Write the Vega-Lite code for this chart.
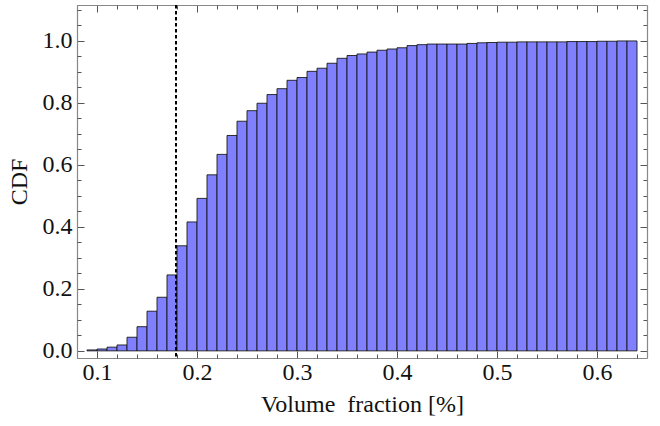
{
  "$schema": "https://vega.github.io/schema/vega-lite/v6.json",
  "width": 570,
  "height": 353,
  "autosize": {"type": "none"},
  "padding": {"left": 77, "top": 5, "right": 13, "bottom": 68},
  "background": "white",
  "config": {
    "font": "Liberation Serif",
    "view": {"stroke": null},
    "axis": {
      "domainColor": "#888888",
      "domainWidth": 1.2,
      "tickColor": "#555555",
      "tickWidth": 1,
      "grid": false,
      "labelFont": "Liberation Serif",
      "labelFontSize": 24,
      "labelColor": "#111111",
      "titleFont": "Liberation Serif",
      "titleFontSize": 24,
      "titleFontWeight": "normal",
      "titleColor": "#111111"
    }
  },
  "datasets": {
    "bins": [
      {"x0": 0.09, "x1": 0.10, "cdf": 0.003},
      {"x0": 0.10, "x1": 0.11, "cdf": 0.006},
      {"x0": 0.11, "x1": 0.12, "cdf": 0.012},
      {"x0": 0.12, "x1": 0.13, "cdf": 0.019},
      {"x0": 0.13, "x1": 0.14, "cdf": 0.044},
      {"x0": 0.14, "x1": 0.15, "cdf": 0.078},
      {"x0": 0.15, "x1": 0.16, "cdf": 0.128},
      {"x0": 0.16, "x1": 0.17, "cdf": 0.173},
      {"x0": 0.17, "x1": 0.18, "cdf": 0.245},
      {"x0": 0.18, "x1": 0.19, "cdf": 0.339},
      {"x0": 0.19, "x1": 0.20, "cdf": 0.416},
      {"x0": 0.20, "x1": 0.21, "cdf": 0.492},
      {"x0": 0.21, "x1": 0.22, "cdf": 0.568},
      {"x0": 0.22, "x1": 0.23, "cdf": 0.634},
      {"x0": 0.23, "x1": 0.24, "cdf": 0.695},
      {"x0": 0.24, "x1": 0.25, "cdf": 0.741},
      {"x0": 0.25, "x1": 0.26, "cdf": 0.775},
      {"x0": 0.26, "x1": 0.27, "cdf": 0.799},
      {"x0": 0.27, "x1": 0.28, "cdf": 0.827},
      {"x0": 0.28, "x1": 0.29, "cdf": 0.846},
      {"x0": 0.29, "x1": 0.30, "cdf": 0.873},
      {"x0": 0.30, "x1": 0.31, "cdf": 0.882},
      {"x0": 0.31, "x1": 0.32, "cdf": 0.902},
      {"x0": 0.32, "x1": 0.33, "cdf": 0.912},
      {"x0": 0.33, "x1": 0.34, "cdf": 0.928},
      {"x0": 0.34, "x1": 0.35, "cdf": 0.944},
      {"x0": 0.35, "x1": 0.36, "cdf": 0.953},
      {"x0": 0.36, "x1": 0.37, "cdf": 0.958},
      {"x0": 0.37, "x1": 0.38, "cdf": 0.964},
      {"x0": 0.38, "x1": 0.39, "cdf": 0.970},
      {"x0": 0.39, "x1": 0.40, "cdf": 0.974},
      {"x0": 0.40, "x1": 0.41, "cdf": 0.978},
      {"x0": 0.41, "x1": 0.42, "cdf": 0.985},
      {"x0": 0.42, "x1": 0.43, "cdf": 0.988},
      {"x0": 0.43, "x1": 0.44, "cdf": 0.990},
      {"x0": 0.44, "x1": 0.45, "cdf": 0.990},
      {"x0": 0.45, "x1": 0.46, "cdf": 0.990},
      {"x0": 0.46, "x1": 0.47, "cdf": 0.990},
      {"x0": 0.47, "x1": 0.48, "cdf": 0.992},
      {"x0": 0.48, "x1": 0.49, "cdf": 0.994},
      {"x0": 0.49, "x1": 0.50, "cdf": 0.995},
      {"x0": 0.50, "x1": 0.51, "cdf": 0.996},
      {"x0": 0.51, "x1": 0.52, "cdf": 0.996},
      {"x0": 0.52, "x1": 0.53, "cdf": 0.997},
      {"x0": 0.53, "x1": 0.54, "cdf": 0.997},
      {"x0": 0.54, "x1": 0.55, "cdf": 0.997},
      {"x0": 0.55, "x1": 0.56, "cdf": 0.997},
      {"x0": 0.56, "x1": 0.57, "cdf": 0.997},
      {"x0": 0.57, "x1": 0.58, "cdf": 0.998},
      {"x0": 0.58, "x1": 0.59, "cdf": 0.998},
      {"x0": 0.59, "x1": 0.60, "cdf": 0.998},
      {"x0": 0.60, "x1": 0.61, "cdf": 0.999},
      {"x0": 0.61, "x1": 0.62, "cdf": 0.999},
      {"x0": 0.62, "x1": 0.63, "cdf": 1.0},
      {"x0": 0.63, "x1": 0.64, "cdf": 1.0}
    ],
    "cut": [{"v": 0.179}]
  },
  "resolve": {"axis": {"x": "independent", "y": "independent"}},
  "layer": [
    {
      "data": {"name": "bins"},
      "mark": {"type": "bar", "fill": "#8080ff", "stroke": "#111111", "strokeWidth": 1, "strokeOpacity": 0.85},
      "encoding": {
        "x": {"field": "x0", "type": "quantitative",
          "scale": {"domain": [0.08, 0.65], "nice": false, "zero": false},
          "axis": {"orient": "bottom", "values": [0.1, 0.2, 0.3, 0.4, 0.5, 0.6], "format": ".1f",
            "labelFont": "Liberation Serif", "labelFontSize": 24, "titleFont": "Liberation Serif", "titleFontSize": 24,
            "tickSize": -7, "labelPadding": 9, "title": "Volume\u00a0 fraction [%]", "titlePadding": 8}},
        "x2": {"field": "x1"},
        "y": {"field": "cdf", "type": "quantitative",
          "scale": {"domain": [-0.023, 1.116], "nice": false, "zero": false},
          "axis": {"orient": "left", "values": [0, 0.2, 0.4, 0.6, 0.8, 1.0], "format": ".1f",
            "labelFont": "Liberation Serif", "labelFontSize": 24, "titleFont": "Liberation Serif", "titleFontSize": 24,
            "tickSize": -7, "labelPadding": 12, "title": "CDF", "titlePadding": 11}},
        "y2": {"datum": 0}
      }
    },
    {
      "data": {"name": "cut"},
      "mark": {"type": "rule", "color": "black", "strokeWidth": 2, "strokeDash": [3.5, 2.5]},
      "encoding": {
        "x": {"field": "v", "type": "quantitative",
          "scale": {"domain": [0.08, 0.65], "nice": false, "zero": false},
          "axis": {"orient": "top", "values": [0.1, 0.2, 0.3, 0.4, 0.5, 0.6], "labels": false,
            "tickSize": -7, "title": null}}
      }
    },
    {
      "data": {"name": "bins"},
      "mark": {"type": "tick", "opacity": 0},
      "encoding": {
        "x": {"field": "x0", "type": "quantitative",
          "scale": {"domain": [0.08, 0.65], "nice": false, "zero": false},
          "axis": {"orient": "bottom", "values": [0.08, 0.12, 0.14, 0.16, 0.18, 0.22, 0.24, 0.26, 0.28, 0.32, 0.34, 0.36, 0.38, 0.42, 0.44, 0.46, 0.48, 0.52, 0.54, 0.56, 0.58, 0.62, 0.64],
            "labels": false, "tickSize": -4, "title": null, "domain": false}},
        "y": {"field": "cdf", "type": "quantitative",
          "scale": {"domain": [-0.023, 1.116], "nice": false, "zero": false},
          "axis": {"orient": "left", "values": [0.05, 0.1, 0.15, 0.25, 0.3, 0.35, 0.45, 0.5, 0.55, 0.65, 0.7, 0.75, 0.85, 0.9, 0.95, 1.05, 1.1],
            "labels": false, "tickSize": -4, "title": null, "domain": false}}
      }
    },
    {
      "data": {"name": "bins"},
      "mark": {"type": "tick", "opacity": 0},
      "encoding": {
        "x": {"field": "x0", "type": "quantitative",
          "scale": {"domain": [0.08, 0.65], "nice": false, "zero": false},
          "axis": {"orient": "top", "values": [0.08, 0.12, 0.14, 0.16, 0.18, 0.22, 0.24, 0.26, 0.28, 0.32, 0.34, 0.36, 0.38, 0.42, 0.44, 0.46, 0.48, 0.52, 0.54, 0.56, 0.58, 0.62, 0.64],
            "labels": false, "tickSize": -4, "title": null, "domain": false}},
        "y": {"field": "cdf", "type": "quantitative",
          "scale": {"domain": [-0.023, 1.116], "nice": false, "zero": false},
          "axis": {"orient": "right", "values": [0.05, 0.1, 0.15, 0.25, 0.3, 0.35, 0.45, 0.5, 0.55, 0.65, 0.7, 0.75, 0.85, 0.9, 0.95, 1.05, 1.1],
            "labels": false, "tickSize": -4, "title": null, "domain": false}}
      }
    },
    {
      "data": {"name": "cut"},
      "mark": {"type": "rule", "opacity": 0},
      "encoding": {
        "y": {"field": "v", "type": "quantitative",
          "scale": {"domain": [-0.023, 1.116], "nice": false, "zero": false},
          "axis": {"orient": "right", "values": [0, 0.2, 0.4, 0.6, 0.8, 1.0], "labels": false,
            "tickSize": -7, "title": null}}
      }
    }
  ]
}
